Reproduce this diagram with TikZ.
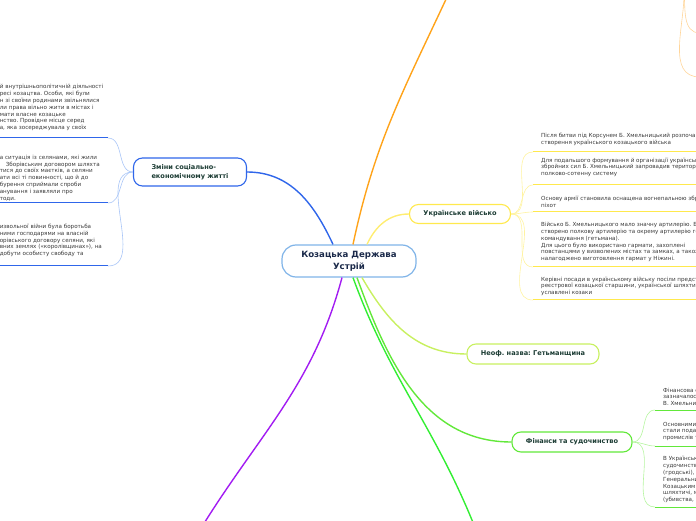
\documentclass[tikz,border=0pt]{standalone}
\usepackage{fontspec}
\setmainfont{DejaVu Sans}
\usetikzlibrary{positioning}
\frenchspacing

\definecolor{ksram}{HTML}{80B4E8}
\definecolor{kstekst}{HTML}{1B2A4A}
\definecolor{gtekst}{HTML}{1C3C34}
\definecolor{btekst}{HTML}{3A3A3A}
\definecolor{blusin}{HTML}{2F66EA}
\definecolor{svsin}{HTML}{A8C5F7}
\definecolor{orang}{HTML}{FFA31A}
\definecolor{svorang}{HTML}{FFD59A}
\definecolor{zhovt}{HTML}{FFE94D}
\definecolor{svzhovt}{HTML}{FFF3A0}
\definecolor{lajm}{HTML}{C8F060}
\definecolor{zelen}{HTML}{62E83A}
\definecolor{svzelen}{HTML}{B6F5A0}
\definecolor{yaskzel}{HTML}{33EE33}
\definecolor{fiolet}{HTML}{A21CF2}

\begin{document}
\begin{tikzpicture}[x=1pt,y=1pt,
  centr/.style={draw=ksram, line width=1.2pt, rounded corners=14pt, fill=white,
    minimum width=134pt, minimum height=32pt, align=center, text=kstekst,
    font=\fontsize{8.6}{12}\selectfont\bfseries},
  gilka/.style={draw=#1, line width=1.1pt, rounded corners=9pt, fill=white,
    align=left, text=gtekst, font=\fontsize{6.6}{9.5}\selectfont\bfseries},
  blok/.style={align=left, text=btekst, inner xsep=8pt, inner ysep=1pt,
    font=\fontsize{5.6}{6.8}\selectfont},
  lblok/.style={blok, text width=107pt, inner xsep=1pt},
  pidkr/.style={draw=#1, line width=1pt},
  zvyaz/.style={draw=#1, line width=0.6pt},
  golov/.style={draw=#1, line width=1.4pt}]

\useasboundingbox (0,0) rectangle (696,520);
\clip (0,0) rectangle (696,520);

% Центр
\node[centr] (ks) at (349,259) {Козацька Держава\\Устрій};

% Гілки
\node[gilka=blusin, minimum width=113pt, minimum height=28pt]
(zm) at (190,348) {Зміни соціально-\\економічному житті};

\node[gilka=zhovt, minimum width=101pt, minimum height=19pt]
(uv) at (460,306) {Українське військо};

\node[gilka=lajm, minimum width=132pt, minimum height=20pt]
(nn) at (533,166) {Неоф. назва: Гетьманщина};

\node[gilka=zelen, minimum width=120pt, minimum height=20pt]
(fs) at (572,78) {Фінанси та судочинство};

% Кінці підкреслень
\coordinate (zm1p) at (108,382);
\coordinate (zm2p) at (108,317);
\coordinate (zm3p) at (108,254);
\coordinate (uv1p) at (533,368);
\coordinate (uv2p) at (533,335);
\coordinate (uv3p) at (533,308);
\coordinate (uv4p) at (533,253);
\coordinate (uv5p) at (533,220);
\coordinate (fs1p) at (655,110);
\coordinate (fs2p) at (655,74);
\coordinate (fs3p) at (655,13);

% Тексти зліва
\node[lblok, above left=6pt and 0pt of zm1p] (zm1)
{й внутрішньополітичній діяльності\\ресі козацтва. Особи, які були\\н зі своїми родинами звільнялися\\ли права вільно жити в містах і\\мати власне козацьке\\нство. Провідне місце серед\\а, яка зосереджувала у своїх};

\node[lblok, above left=1pt and 0pt of zm2p] (zm2)
{а ситуація із селянами, які жили\\\hspace*{6pt}Зборівським договором шляхта\\тися до своїх маєтків, а селяни\\ати всі ті повинності, що й до\\бурення  сприймали спроби\\анування і заявляли про\\тоди.};

\node[lblok, above left=8pt and 0pt of zm3p] (zm3)
{извольної війни була боротьба\\ними господарями на власній\\орівського договору селяни, які\\вних землях («королівщинах»), на\\добути особисту свободу та};

% Тексти військо
\node[blok, above right=5pt and 0pt of uv1p] (uv1)
{Після битви під Корсунем Б. Хмельницький розпочав\\створення українського козацького війська};

\node[blok, above right=7pt and 0pt of uv2p] (uv2)
{Для подальшого формування й організації українських\\збройних сил Б. Хмельницький запровадив територіал\\полково-сотенну систему};

\node[blok, above right=3pt and 0pt of uv3p] (uv3)
{Основу армії становила оснащена вогнепальною збро\\піхот};

\node[blok, above right=4pt and 0pt of uv4p] (uv4)
{Військо Б. Хмельницького мало значну артилерію. Бу\\створено полкову артилерію та окрему артилерію гол\\командування (гетьмана).\\Для цього було використано гармати, захоплені\\повстанцями у визволених містах та замках, а також\\налагоджено виготовлення гармат у Ніжині.};

\node[blok, above right=3pt and 0pt of uv5p] (uv5)
{Керівні посади в українському війську посіли предста\\реєстрової козацької старшини, української шляхти й\\уславлені козаки};

% Тексти фінанси
\node[blok, above right=3pt and 0pt of fs1p] (fs1)
{Фінансова с\\зазначалос\\В. Хмельни};

\node[blok, above right=4pt and 0pt of fs2p] (fs2)
{Основними\\стали подат\\промислів т};

\node[blok, above right=3pt and 0pt of fs3p] (fs3)
{В Українськ\\судочинства\\(гродські), з\\Генеральни\\Козацьким с\\шляхтичі, м\\(убивства, р};

% Кінці поза рамкою
\coordinate (orng) at (448,525);
\coordinate (fiol) at (203,-5);
\coordinate (zlkin) at (474,-5);
\coordinate (or0) at (684,530);
\coordinate (or1) at (700,487);
\coordinate (or2) at (700,443);

% Головні зв'язки
\draw[golov=blusin]
([xshift=-16pt]ks.north)
to[out=115,in=0]
(zm.east);

\draw[golov=orang]
([xshift=4pt]ks.north)
to[out=78,in=-115]
(orng);

\draw[golov=zhovt!80]
([xshift=18pt]ks.north)
to[out=65,in=180]
(uv.west);

\draw[golov=fiolet]
([xshift=-7pt]ks.south)
to[out=-105,in=58]
(fiol);

\draw[golov=yaskzel]
([xshift=4pt]ks.south)
to[out=-70,in=112]
(zlkin);

\draw[golov=zelen]
([xshift=8pt]ks.south)
to[out=-70,in=180]
(fs.west);

\draw[golov=lajm]
([xshift=13pt]ks.south)
to[out=-60,in=180]
(nn.west);

% Дрібні зв'язки і підкреслення
\foreach \b in {zm1p,zm2p,zm3p} {
  \draw[zvyaz=svsin] (zm.west) to[out=180,in=0] (\b);
  \draw[pidkr=blusin] (\b) -- ++(-110,0);
}

\foreach \b in {uv1p,uv2p,uv3p,uv4p,uv5p} {
  \draw[zvyaz=svzhovt] (uv.east) to[out=0,in=180] (\b);
  \draw[pidkr=zhovt] (\b) -- ++(170,0);
}

\foreach \b in {fs1p,fs2p,fs3p} {
  \draw[zvyaz=svzelen] (fs.east) to[out=0,in=180] (\b);
  \draw[pidkr=zelen] (\b) -- ++(60,0);
}

\draw[zvyaz=svorang] (or0) to[out=-85,in=180] (or1);
\draw[zvyaz=svorang] (or0) to[out=-88,in=180] (or2);

\end{tikzpicture}
\end{document}
